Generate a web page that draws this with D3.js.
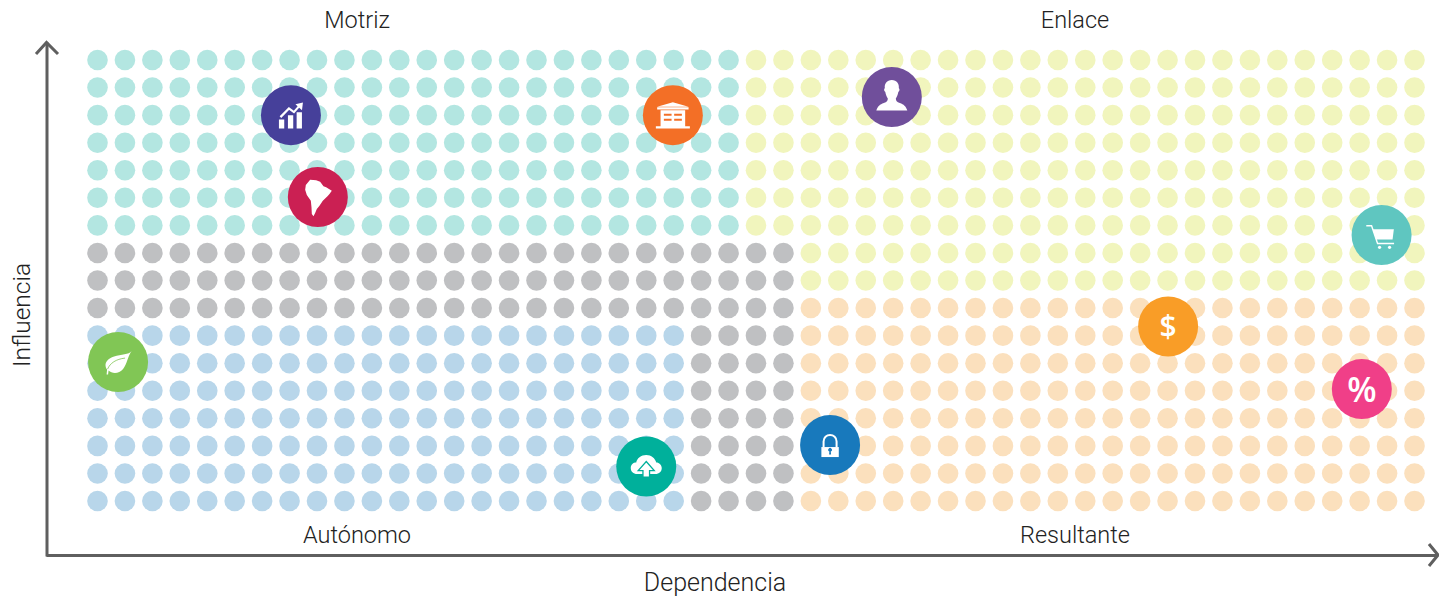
<!DOCTYPE html>
<html>
<head>
<meta charset="utf-8">
<script src="https://cdn.jsdelivr.net/npm/d3@7"></script>
<style>
  html, body { margin: 0; padding: 0; background: #fff; }
  svg { display: block; }
  text { font-family: Roboto, "Liberation Sans", sans-serif; font-weight: 300; fill: #222; }
  .axis path { stroke: #5f5f5f; stroke-width: 3; }
</style>
</head>
<body>
<div class="chart"></div>
<script>
// Grid size
const columns = d3.range(49);
const rows = d3.range(17);

// Each row of dots, top to bottom: how many dots of each group, left to right
const rowGroups = [
  ["motriz", "enlace"], ["motriz", "enlace"], ["motriz", "enlace"], ["motriz", "enlace"],
  ["motriz", "enlace"], ["motriz", "enlace"], ["motriz", "enlace"],
  ["neutro", "enlace"], ["neutro", "enlace"], ["neutro", "resultante"],
  ["autonomo", "neutro", "resultante"], ["autonomo", "neutro", "resultante"],
  ["autonomo", "neutro", "resultante"], ["autonomo", "neutro", "resultante"],
  ["autonomo", "neutro", "resultante"], ["autonomo", "neutro", "resultante"],
  ["autonomo", "neutro", "resultante"]
];
const rowCounts = [
  [24, 25], [24, 25], [24, 25], [24, 25], [24, 25], [24, 25], [24, 25],
  [26, 23], [26, 23], [26, 23],
  [22, 4, 23], [22, 4, 23], [22, 4, 23], [22, 4, 23], [22, 4, 23], [22, 4, 23], [22, 4, 23]
];
const groupNames = ["motriz", "enlace", "neutro", "autonomo", "resultante"];
const groupColors = ["#b3e6e1", "#f1f5bd", "#bfc0c2", "#b8d6ea", "#fbe0bd"];

// Bubbles, in grid units (dependencia from the left, influencia from the bottom)
const bubbleNames = ["trend", "bank", "person", "america", "cart", "dollar", "percent", "leaf", "cloud", "lock"];
const dependencia = [7.05, 20.97, 28.95, 8.03, 46.8, 39.02, 46.08, 0.75, 20.0, 26.7];
const influencia = [14.0, 14.0, 14.66, 11.03, 9.65, 6.33, 4.06, 5.04, 1.25, 2.03];
const bubbleColors = ["#46409a", "#f36f26", "#704f9b", "#cb2053", "#5fc6c0", "#f99d27", "#f03f88", "#81c655", "#00b09b", "#1879bc"];

const width = 1439;
const height = 597;

const svg = d3.select(".chart")
  .append("svg")
  .attr("width", width)
  .attr("height", height);

const x = d3.scaleLinear().domain([0, 48]).range([97.5, 1414.5]);
const y = d3.scaleLinear().domain([0, 16]).range([501, 60]);
const color = d3.scaleOrdinal().domain(groupNames).range(groupColors);

// Dots
const cells = [];
rowCounts.forEach(function (counts, r) {
  let c = 0;
  counts.forEach(function (count, i) {
    d3.range(count).forEach(function () {
      cells.push({ col: columns[c], row: rows[16 - r], group: rowGroups[r][i] });
      c++;
    });
  });
});

svg.append("g")
  .selectAll("circle")
  .data(cells)
  .enter()
  .append("circle")
  .attr("cx", d => x(d.col))
  .attr("cy", d => y(d.row))
  .attr("r", 10.3)
  .attr("fill", d => color(d.group));

// Axes, no ticks, only the lines
const xAxisScale = d3.scaleLinear().range([46, 1437]);
const yAxisScale = d3.scaleLinear().range([556, 42]);

svg.append("g")
  .attr("class", "axis")
  .attr("transform", "translate(0,555)")
  .call(d3.axisBottom(xAxisScale).tickValues([]).tickSizeOuter(0));
svg.append("g")
  .attr("class", "axis")
  .attr("transform", "translate(46.5,0)")
  .call(d3.axisLeft(yAxisScale).tickValues([]).tickSizeOuter(0));

// Arrow heads
svg.append("path")
  .attr("d", "M36,54L46.5,42.5L58,54M1429,544L1438,555L1429,566")
  .attr("fill", "none")
  .attr("stroke", "#5f5f5f")
  .attr("stroke-width", 3);

// Labels
const labelTexts = ["Motriz", "Enlace", "Autónomo", "Resultante", "Dependencia"];
const labelX = [357, 1075, 357, 1075, 715];
const labelY = [28, 28, 543, 543, 591];
const labelSizes = [23.5, 23.5, 23.5, 23.5, 25];

svg.append("g")
  .selectAll("text")
  .data(labelTexts)
  .enter()
  .append("text")
  .attr("x", (d, i) => labelX[i])
  .attr("y", (d, i) => labelY[i])
  .attr("text-anchor", "middle")
  .attr("font-size", (d, i) => labelSizes[i])
  .text(d => d);

svg.append("text")
  .attr("transform", "translate(30,315) rotate(-90)")
  .attr("text-anchor", "middle")
  .attr("font-size", 24.5)
  .text("Influencia");

// Bubbles
const bubble = svg.append("g")
  .selectAll("g")
  .data(bubbleNames)
  .enter()
  .append("g")
  .attr("transform", (d, i) => `translate(${x(dependencia[i])},${y(influencia[i])})`);

bubble.append("circle")
  .attr("r", 30)
  .attr("fill", (d, i) => bubbleColors[i]);

// Icons, white shapes drawn around the bubble centre
const icons = {
  trend: function (g) {
    g.append("path").attr("fill", "#fff")
      .attr("d", "M-12,4.3h5.3V13.3H-12ZM-3,0h5.3V13.3H-3ZM5.7,-3H11V13.3H5.7Z");
    g.append("path").attr("fill", "none").attr("stroke", "#fff").attr("stroke-width", 2.2)
      .attr("d", "M-10.5,2L-2,-6.7L3,-3L9.5,-10.5");
    g.append("path").attr("fill", "#fff").attr("d", "M12,-12.7L4.5,-11L11,-5Z");
  },
  bank: function (g, c) {
    g.append("path").attr("fill", "#fff")
      .attr("d", "M0,-13L15.7,-8.3H-15.7ZM-15.7,-8H15.7V-5.7H-15.7ZM-12.3,-5H12.3V11H-12.3ZM-17,11H17V13.3H-17Z");
    g.append("path").attr("fill", c)
      .attr("d", "M-9,-1.5H-1.3V0.7H-9ZM1.3,-1.5H9V0.7H1.3ZM-9,3.5H-1.3V5.7H-9ZM1.3,3.5H9V5.7H1.3Z");
  },
  person: function (g) {
    g.append("path").attr("fill", "#fff")
      .attr("d", "M0,-17C-5,-17 -7.5,-13 -7,-9C-8,-8 -8,-6 -6.5,-5C-6,-2 -5,0 -4,1.5C-4,4 -5,5 -8,6C-12,7.5 -14,9 -15.5,13.5H15.5C14,9 12,7.5 8,6C5,5 4,4 4,1.5C5,0 6,-2 6.5,-5C8,-6 8,-8 7,-9C7.5,-13 5,-17 0,-17Z");
  },
  america: function (g) {
    const pts = [[197, 378], [210, 362], [228, 364], [240, 368], [250, 382], [258, 385], [275, 395], [268, 405], [262, 412], [248, 425], [238, 440], [230, 450], [225, 462], [220, 472], [215, 465], [214, 445], [212, 425], [200, 408], [195, 392]];
    g.append("path").attr("fill", "#fff")
      .attr("d", d3.line().x(p => (p[0] - 233) / 3).y(p => (p[1] - 414) / 3)(pts) + "Z");
  },
  cart: function (g) {
    g.append("path").attr("fill", "none").attr("stroke", "#fff").attr("stroke-width", 1.4)
      .attr("d", "M-15.3,-9.3H-10L-4,8.5H12.5");
    g.append("path").attr("fill", "#fff").attr("d", "M-8.7,-5.7H12.3L11,4.5H-5.5Z");
    g.append("circle").attr("fill", "#fff").attr("cx", -2).attr("cy", 12.3).attr("r", 1.6);
    g.append("circle").attr("fill", "#fff").attr("cx", 8).attr("cy", 12.3).attr("r", 1.6);
  },
  dollar: function (g) {
    g.append("text").attr("text-anchor", "middle").attr("y", 10.5)
      .attr("font-size", 30).style("font-family", "'Open Sans'").style("font-weight", 600).style("fill", "#fff")
      .text("$");
  },
  percent: function (g) {
    g.append("text").attr("text-anchor", "middle").attr("y", 12.5)
      .attr("font-size", 34).style("font-family", "'Open Sans'").style("font-weight", 600).style("fill", "#fff")
      .text("%");
  },
  leaf: function (g, c) {
    g.append("path").attr("fill", "#fff")
      .attr("d", "M13.5,-11C11,-7 3,-8 -4,-5.5C-10,-3.5 -13,0 -12.5,4C-12.3,6 -11.5,7 -11,7.5L-11.5,12.5L-10,12.5L-9.5,8.5C-6,12 1,12 5,7C9,2 9,-4 13.5,-11Z");
    g.append("path").attr("fill", "none").attr("stroke", c).attr("stroke-width", 0.8)
      .attr("d", "M-10.5,7C-8,1 -2,-3 7,-4");
  },
  cloud: function (g, c) {
    g.append("path").attr("fill", "#fff")
      .attr("d", "M-9,7.5C-13,7.5 -15.5,5 -15.5,1.5C-15.5,-2 -13,-4 -10,-4C-9.5,-8 -5,-11.5 0,-11.5C5,-11.5 9,-8 10,-4C13,-4 15.5,-1.5 15.5,1.5C15.5,5 13,7.5 9,7.5Z");
    g.append("path").attr("fill", "#fff").attr("stroke", c).attr("stroke-width", 1.3)
      .attr("d", "M0,-5L8,4H3.3V10.5H-3.3V4H-8Z");
  },
  lock: function (g, c) {
    g.append("path").attr("fill", "none").attr("stroke", "#fff").attr("stroke-width", 2)
      .attr("d", "M-6.5,2V-3.5C-6.5,-7.5 -3.5,-10 0,-10C3.5,-10 6.5,-7.5 6.5,-3.5V2");
    g.append("rect").attr("fill", "#fff").attr("x", -8.7).attr("y", 2).attr("width", 17.4).attr("height", 10);
    g.append("path").attr("fill", c)
      .attr("d", "M-0.7,6.5A1.8,1.8 0 1 1 0.7,6.5L1,9.5H-1Z");
  }
};

bubble.each(function (d, i) {
  icons[d](d3.select(this), bubbleColors[i]);
});
</script>
</body>
</html>
